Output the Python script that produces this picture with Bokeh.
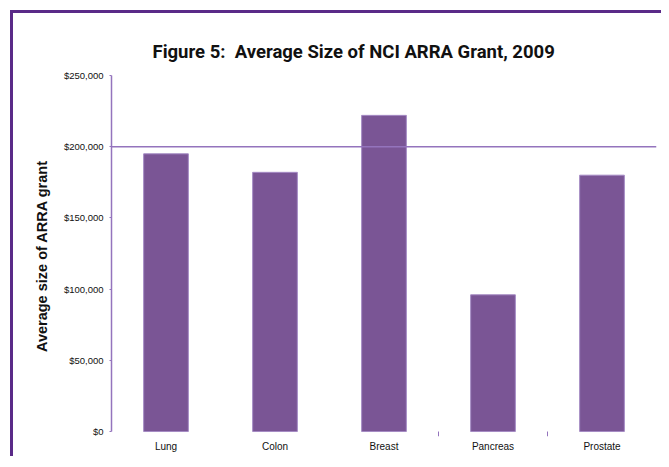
from bokeh.plotting import figure
from bokeh.models import ColumnDataSource, Span, Range1d, NumeralTickFormatter, FixedTicker
from bokeh.transform import dodge
from bokeh.embed import file_html
from bokeh.resources import INLINE

categories = ["Lung", "Colon", "Breast", "Pancreas", "Prostate"]
avg_grant = [195000, 182000, 222000, 96000, 180000]
y_ticks = [0, 50000, 100000, 150000, 200000, 250000]
boundary_after = ["Breast", "Pancreas"]
reference_value = 200000
title_text = "Figure 5:\u00a0 Average Size of NCI ARRA Grant, 2009"

BAR = "#7a5595"
LINE = "#9474bd"
FRAME = "#5a2a88"

p = figure(x_range=categories, y_range=Range1d(-3500, 250000),
           width=651, height=446, output_backend="svg", toolbar_location=None,
           min_border_left=98, min_border_right=8, min_border_top=62, min_border_bottom=23,
           title=title_text)
p.styles = {"border-left": f"3px solid {FRAME}", "border-top": f"3px solid {FRAME}",
            "margin-left": "10px", "margin-top": "10px"}

p.title.align = "left"
p.title.offset = 41
p.title.text_font = "Roboto"
p.title.text_font_style = "bold"
p.title.text_font_size = "18.5px"
p.title.text_color = "#111111"
p.title.standoff = 26

src = ColumnDataSource(dict(cat=categories, val=avg_grant))
p.vbar(x="cat", top="val", bottom=0, width=0.41, source=src,
       fill_color=BAR, line_color="#a58bc4", line_width=1)

p.add_layout(Span(location=reference_value, dimension="width", line_color=LINE, line_width=1.5))

bsrc = ColumnDataSource(dict(cat=boundary_after))
p.segment(x0=dodge("cat", 0.5, range=p.x_range), y0=0,
          x1=dodge("cat", 0.5, range=p.x_range), y1=-3500,
          source=bsrc, line_color=LINE, line_width=1)

p.xgrid.grid_line_color = None
p.ygrid.grid_line_color = None
p.outline_line_color = None

p.yaxis.bounds = (0, 250000)
p.yaxis.ticker = FixedTicker(ticks=y_ticks)
p.yaxis.formatter = NumeralTickFormatter(format="$0,0")
p.yaxis.axis_line_color = LINE
p.yaxis.axis_line_width = 1.5
p.yaxis.major_tick_line_color = LINE
p.yaxis.major_tick_out = 2
p.yaxis.major_tick_in = 0
p.yaxis.minor_tick_line_color = None
p.yaxis.major_label_text_font = "Liberation Sans"
p.yaxis.major_label_text_font_size = "9.5px"
p.yaxis.major_label_text_color = "#111111"
p.yaxis.major_label_standoff = 6
p.yaxis.axis_label = "Average size of ARRA grant"
p.yaxis.axis_label_text_font = "Liberation Sans"
p.yaxis.axis_label_text_font_style = "bold"
p.yaxis.axis_label_text_font_size = "14.5px"
p.yaxis.axis_label_text_color = "#111111"
p.yaxis.axis_label_standoff = 11

p.xaxis.axis_line_color = None
p.xaxis.major_tick_line_color = None
p.xaxis.major_tick_out = 0
p.xaxis.major_tick_in = 0
p.xaxis.minor_tick_line_color = None
p.xaxis.major_label_text_font = "Liberation Sans"
p.xaxis.major_label_text_font_size = "10px"
p.xaxis.major_label_text_color = "#111111"
p.xaxis.major_label_standoff = 4

open("out.html", "w").write(file_html(p, INLINE))
